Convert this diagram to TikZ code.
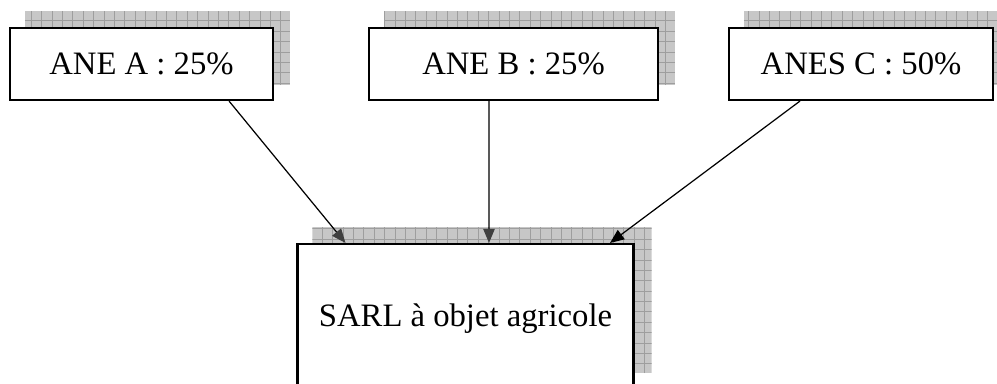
\documentclass[tikz,border=0pt]{standalone}
\usepackage{fontspec}
\setmainfont{Liberation Serif}
\usetikzlibrary{arrows.meta,backgrounds}

\tikzstyle{box}=[draw,fill=white,line width=1.2pt,inner sep=0pt,font=\fontsize{18.6}{22}\selectfont]
\tikzstyle{shadowfill}=[fill=black!22]
\tikzstyle{shadowgrid}=[draw=black!38,line width=0.5pt,step=0.208cm]
\tikzstyle{link} = [draw,line width=0.7pt,-{Triangle[length=8pt,width=6.5pt]}]
\tikzstyle{grey link} = [draw,line width=0.7pt,-{Triangle[length=8pt,width=6.5pt,color=black!75]}]

\newcommand{\gridshadow}[2]{%
  \begin{scope}
    \clip #1 rectangle #2;
    \path[shadowfill] #1 rectangle #2;
    \path[shadowgrid] #1 grid #2;
  \end{scope}}

\begin{document}
\begin{tikzpicture}[x=0.02cm,y=-0.02cm]
			\useasboundingbox (0,0) rectangle (997,383);
			\clip (0,0) rectangle (997,383);
			\node[box,minimum width=5.26cm,minimum height=1.44cm] (a) at (141.5,64) {ANE A : 25\%};
			\node[box,minimum width=5.78cm,minimum height=1.44cm] (b) at (513.5,64) {ANE B : 25\%};
			\node[box,minimum width=5.28cm,minimum height=1.44cm] (c) at (861,64) {ANES C : 50\%};
			\node[box,minimum width=6.72cm,minimum height=3cm] (d) at (465.5,319) {SARL à objet agricole};
	    		% Shadows behind the boxes
			\begin{scope}[on background layer]
			\gridshadow{([shift={(16,-16)}]a.south west)}{([shift={(16,-16)}]a.north east)}
			\gridshadow{([shift={(16,-16)}]b.south west)}{([shift={(16,-16)}]b.north east)}
			\gridshadow{([shift={(16,-16)}]c.south west)}{([shift={(16,-16)}]c.north east)}
			\gridshadow{([shift={(16,-16)}]d.north west)}{([shift={(17,-22)}]d.south east)}
			\end{scope}
	   		 % Connect the shareholders to the company
			\path[grey link] ([shift={(-45,0)}]a.south east) to ([shift={(-120,0)}]d.north);
			\path[grey link] ([shift={(-24.5,0)}]b.south) to ([shift={(23.5,0)}]d.north);
			\path[link] ([shift={(-61,0)}]c.south) to ([shift={(144.5,0)}]d.north);
		\end{tikzpicture}
\end{document}
